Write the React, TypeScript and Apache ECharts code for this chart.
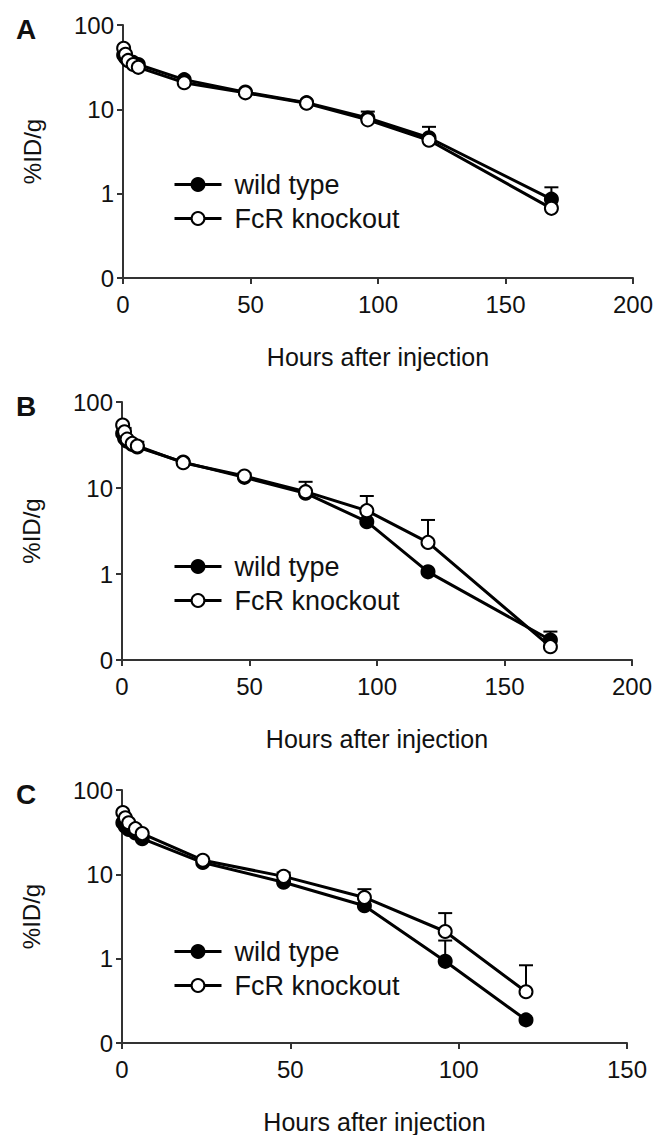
import React, { useEffect, useRef } from "react";
import * as echarts from "echarts";

// Time points (hours after injection)
const T_AB = [0.25, 1, 2, 4, 6, 24, 48, 72, 96, 120, 168];
const T_C = [0.25, 1, 2, 4, 6, 24, 48, 72, 96, 120];

// Panel A (%ID/g)
const A_WT = [44, 41, 38, 36, 34, 22.5, 16, 12, 7.9, 4.6, 0.86];
const A_KO = [53, 45, 38, 34, 31.5, 20.7, 15.7, 11.8, 7.5, 4.3, 0.67];
const A_WT_ERR = [null, null, null, null, null, null, null, null, 9.4, 6.2, 1.19];
const A_KO_ERR = [null, null, null, null, null, null, null, null, null, null, null];

// Panel B
const B_WT = [43, 38, 35, 32, 30, 20, 13.3, 8.7, 4.06, 1.06, 0.171];
const B_KO = [54, 45, 37, 33, 30.8, 19.7, 13.8, 9.06, 5.45, 2.33, 0.143];
const B_WT_ERR = [null, null, null, null, null, null, null, null, null, null, 0.214];
const B_KO_ERR = [null, 50, null, null, 34.5, null, 14.8, 11.8, 8.07, 4.25, null];

// Panel C
const C_WT = [41, 37, 34, 31, 26.5, 13.8, 8.05, 4.24, 0.93, 0.188];
const C_KO = [54, 46.8, 40.9, 34.8, 30.4, 14.7, 9.46, 5.32, 2.1, 0.405];
const C_WT_ERR = [null, null, null, null, null, null, null, null, 1.64, null];
const C_KO_ERR = [null, null, null, null, null, null, 10.5, 6.67, 3.47, 0.835];

const Y_TICK_LABELS: Record<string, string> = { "0.1": "0", "1": "1", "10": "10", "100": "100" };
const X_MAX = [200, 200, 150];
const PANEL_LETTERS = ["A", "B", "C"];
const SERIES_NAMES = ["wild type", "FcR knockout"];
const X_TITLE = "Hours after injection";
const Y_TITLE = "%ID/g";

const FONT = "'Liberation Sans', Arial, sans-serif";

const GRIDS = [
  { left: 123, top: 25, width: 510, height: 253 },
  { left: 122, top: 402, width: 510, height: 258 },
  { left: 122, top: 790, width: 505, height: 255 },
];

export default function App() {
  const ref = useRef<HTMLDivElement>(null);
  useEffect(() => {
    if (!ref.current) return;
    const chart = echarts.init(ref.current, undefined, { renderer: "svg" });

    const panels = [
      { t: T_AB, wt: A_WT, ko: A_KO, wtErr: A_WT_ERR, koErr: A_KO_ERR },
      { t: T_AB, wt: B_WT, ko: B_KO, wtErr: B_WT_ERR, koErr: B_KO_ERR },
      { t: T_C, wt: C_WT, ko: C_KO, wtErr: C_WT_ERR, koErr: C_KO_ERR },
    ];

    const axisColor = "#333";
    const xAxis = GRIDS.map((_, i) => ({
      type: "value",
      gridIndex: i,
      min: 0,
      max: X_MAX[i],
      interval: 50,
      splitLine: { show: false },
      axisLine: { show: true, lineStyle: { color: axisColor, width: 2 } },
      axisTick: { show: true, inside: false, length: 6, lineStyle: { color: axisColor, width: 2 } },
      axisLabel: { color: "#111", fontSize: 24, fontFamily: FONT, margin: 14 },
      name: X_TITLE,
      nameLocation: "middle",
      nameGap: 66,
      nameTextStyle: { color: "#111", fontSize: 25, fontFamily: FONT },
    }));
    const yAxis = GRIDS.map((_, i) => ({
      type: "log",
      logBase: 10,
      gridIndex: i,
      min: 0.1,
      max: 100,
      splitLine: { show: false },
      axisLine: { show: true, lineStyle: { color: axisColor, width: 2 } },
      axisTick: { show: true, inside: false, length: 6, lineStyle: { color: axisColor, width: 2 } },
      axisLabel: {
        color: "#111",
        fontSize: 24,
        fontFamily: FONT,
        margin: 9,
        formatter: (v: number) => {
          const k = String(Math.round(v * 10) / 10);
          return Y_TICK_LABELS[k] ?? k;
        },
      },
      name: Y_TITLE,
      nameLocation: "middle",
      nameGap: 79,
      nameTextStyle: { color: "#111", fontSize: 24, fontFamily: FONT },
    }));

    const series: any[] = [];
    panels.forEach((p, i) => {
      const errData: any[] = [];
      p.t.forEach((t, j) => {
        if (p.wtErr[j] != null) errData.push([t, p.wt[j], p.wtErr[j]]);
        if (p.koErr[j] != null) errData.push([t, p.ko[j], p.koErr[j]]);
      });
      series.push({
        type: "custom",
        xAxisIndex: i,
        yAxisIndex: i,
        z: 1,
        silent: true,
        data: errData,
        encode: { x: 0, y: [1, 2] },
        renderItem: (_params: any, api: any) => {
          const x = api.value(0);
          const y = api.value(1);
          const hi = api.value(2);
          const p0 = api.coord([x, y]);
          const p1 = api.coord([x, hi]);
          return {
            type: "group",
            children: [
              { type: "line", shape: { x1: p0[0], y1: p0[1], x2: p1[0], y2: p1[1] }, style: { stroke: "#000", lineWidth: 2 } },
              { type: "line", shape: { x1: p1[0] - 7, y1: p1[1], x2: p1[0] + 7, y2: p1[1] }, style: { stroke: "#000", lineWidth: 2 } },
            ],
          };
        },
      });
      series.push({
        type: "line",
        name: SERIES_NAMES[0],
        xAxisIndex: i,
        yAxisIndex: i,
        z: 2,
        data: p.t.map((t, j) => [t, p.wt[j]]),
        symbol: "circle",
        symbolSize: 13,
        lineStyle: { color: "#000", width: 3 },
        itemStyle: { color: "#000", borderColor: "#000", borderWidth: 2 },
      });
      series.push({
        type: "line",
        name: SERIES_NAMES[1],
        xAxisIndex: i,
        yAxisIndex: i,
        z: 3,
        data: p.t.map((t, j) => [t, p.ko[j]]),
        symbol: "circle",
        symbolSize: 13,
        lineStyle: { color: "#000", width: 3 },
        itemStyle: { color: "#fff", borderColor: "#000", borderWidth: 2 },
      });
    });

    const legend = GRIDS.map((g) => ({
      data: SERIES_NAMES,
      orient: "vertical",
      left: 168,
      top: g.top + g.height - 93 - 19,
      itemWidth: 47,
      itemHeight: 16,
      itemGap: 7,
      selectedMode: false,
      lineStyle: { width: 3 },
      textStyle: { color: "#111", fontSize: 27, lineHeight: 27, fontFamily: FONT, padding: [0, 0, 0, 8] },
    }));

    const graphic = GRIDS.map((g, i) => ({
      type: "text",
      x: 26,
      y: g.top + 4,
      style: {
        text: PANEL_LETTERS[i],
        fontSize: 28,
        fontWeight: "bold",
        fontFamily: FONT,
        fill: "#111",
        align: "center",
        verticalAlign: "middle",
      },
    }));

    chart.setOption({
      animation: false,
      backgroundColor: "#fff",
      grid: GRIDS.map((g) => ({ ...g, containLabel: false })),
      xAxis,
      yAxis,
      legend,
      graphic,
      series,
    });
    return () => chart.dispose();
  }, []);
  return (
    <div
      ref={ref}
      style={{ position: "absolute", left: 0, top: 0, width: 660, height: 1135 }}
    />
  );
}
